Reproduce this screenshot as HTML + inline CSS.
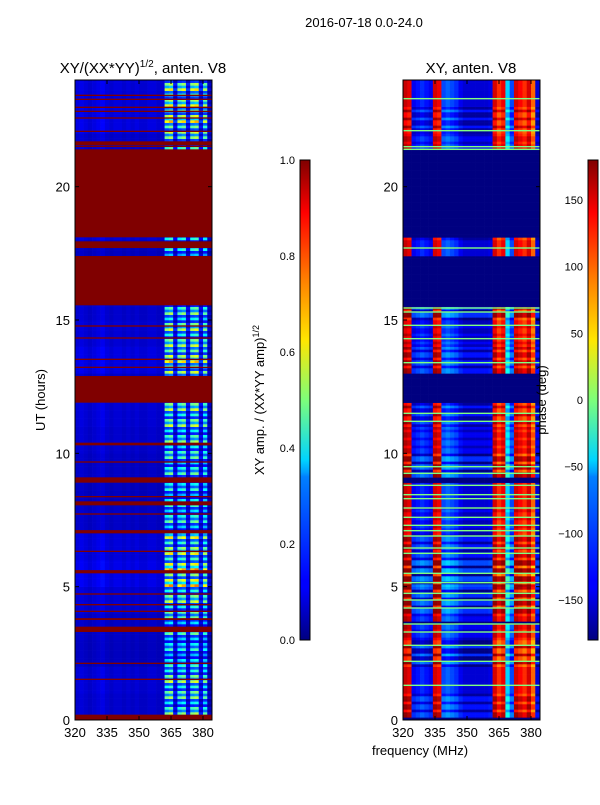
<!DOCTYPE html>
<html><head><meta charset="utf-8"><style>
body{margin:0;background:#fff;font-family:"Liberation Sans",sans-serif}
svg text{font-family:"Liberation Sans",sans-serif}
</style></head><body>
<svg id="fig" width="600" height="800" xmlns="http://www.w3.org/2000/svg">
<defs>
<linearGradient id="jet" x1="0" y1="1" x2="0" y2="0">
<stop offset="0" stop-color="#000080"/><stop offset="0.11" stop-color="#0000ff"/><stop offset="0.125" stop-color="#0000ff"/>
<stop offset="0.34" stop-color="#0080ff"/><stop offset="0.35" stop-color="#00a0ff"/><stop offset="0.375" stop-color="#00d4ff"/>
<stop offset="0.5" stop-color="#7dff7a"/><stop offset="0.625" stop-color="#ffe600"/><stop offset="0.75" stop-color="#ff8000"/>
<stop offset="0.89" stop-color="#ff0000"/><stop offset="1" stop-color="#800000"/>
</linearGradient>
</defs>
<text x="364" y="27" font-size="13" text-anchor="middle">2016-07-18 0.0-24.0</text>
<text x="143" y="73" font-size="15" text-anchor="middle">XY/(XX*YY)<tspan font-size="10" dy="-6">1/2</tspan><tspan dy="6">, anten. V8</tspan></text>
<text x="471" y="73" font-size="15" text-anchor="middle">XY, anten. V8</text>
<g id="left"></g>
<g id="right"></g>
<rect x="75" y="80" width="137" height="640" fill="none" stroke="#000"/>
<rect x="403" y="80" width="137" height="640" fill="none" stroke="#000"/>
<g id="axes"></g>
<text transform="translate(45,400) rotate(-90)" font-size="13" text-anchor="middle">UT (hours)</text>
<text x="420" y="755" font-size="13" text-anchor="middle">frequency (MHz)</text>
<rect x="300" y="160" width="10" height="480" fill="url(#jet)" stroke="#000"/>
<rect x="588" y="160" width="10" height="480" fill="url(#jet)" stroke="#000"/>
<text transform="translate(264,400) rotate(-90)" font-size="13" text-anchor="middle">XY amp. / (XX*YY amp)<tspan font-size="9" dy="-5">1/2</tspan></text>
<text transform="translate(546,400) rotate(-90)" font-size="13" text-anchor="middle">phase (deg)</text>
</svg>
<script>
const NS="http://www.w3.org/2000/svg";
// ---- data ----
const uTicks=[0,5,10,15,20];
const fTicks=[320,335,350,365,380];
const ampTicks=[0.0,0.2,0.4,0.6,0.8,1.0];
const phaseTicks=[-150,-100,-50,0,50,100,150];
// frequency columns (2 MHz bins starting at 320)
const ampCol=[0.07,0.08,0.07,0.06,0.07,0.08,0.09,0.07,0.06,0.07,0.07,0.06,0.07,0.06,0.07,0.06,0.06,0.07,0.07,0.06,0.06,0.32,0.36,0.1,0.3,0.34,0.1,0.33,0.36,0.1,0.3,0.05];
const phaseCol=[155,145,-140,-130,-120,-130,-140,150,140,-110,-100,-110,-120,-140,-150,-150,-150,-150,-150,-150,-145,150,120,140,-60,-110,150,135,120,150,100,-150];
const rowGain=[1.1,1.2,0.9,1.0,1.2,1.5,1.3,1.0,0.9,1.0,1.1,1.2,1.0,1.4,1.2,1.1,1.0,0.9,1.2,1.0,1.0,1.1,1.4,1.3];
const rowTex=[1.0,0.5,1.4,0.7,1.2,0.4];
const phaseShift=[20,0,-30,10,30,40,20,-10,0,30,10,-20,0,20,-10,30,0,0,20,0,0,10,-20,0];
// flagged bands (hours) for amplitude -> value 1
const ampFlagStart=[0,1.5,2.1,3.3,3.75,4.05,4.3,4.7,5.5,6.3,7.0,7.7,8.05,8.35,8.9,9.65,10.3,11.9,13.2,13.5,14.3,14.75,15.55,17.7,18.1,21.5,21.55,22.05,22.55,22.8,22.95,23.25,23.4];
const ampFlagEnd=[0.2,1.55,2.15,3.5,3.82,4.1,4.35,4.75,5.62,6.35,7.12,7.75,8.2,8.4,9.1,9.7,10.4,12.9,13.25,13.55,14.35,14.8,17.4,17.95,21.4,21.53,21.7,22.1,22.6,22.85,23.0,23.3,23.45];
// flagged bands for phase -> navy
const phFlagStart=[0,3.6,8.9,11.9,15.55,18.1];
const phFlagEnd=[0.08,3.7,9.1,13.0,17.4,21.4];
// green (phase ~0) lines
const phLine=[1.3,2.2,2.8,3.3,3.6,4.2,4.5,4.75,5.15,5.5,6.25,6.45,6.9,7.1,7.3,7.6,7.95,8.3,8.45,8.8,9.25,9.5,11.2,11.5,13.4,14.3,14.8,15.3,15.45,17.7,21.4,21.5,22.1,23.3];
// ---- scales ----
function yS(h){return 720-h*640/24;}
function xL(f){return 75+(f-320)*128/60;}
function xR(f){return 403+(f-320)*128/60;}
function jet(v){v=Math.max(0,Math.min(1,v));
 const r=Math.max(0,Math.min(1,Math.min(4*v-1.5,-4*v+4.5)));
 const g=Math.max(0,Math.min(1,Math.min(4*v-0.5,-4*v+3.5)));
 const b=Math.max(0,Math.min(1,Math.min(4*v+0.5,-4*v+2.5)));
 return `rgb(${Math.round(r*255)},${Math.round(g*255)},${Math.round(b*255)})`;}
function inBand(h,s,e){for(let i=0;i<s.length;i++)if(h>=s[i]&&h<e[i])return true;return false;}
const L=document.getElementById('left'),R=document.getElementById('right');
const dh=0.1,nr=240;
for(let r=0;r<nr;r++){
 const h=r*dh,hc=h+dh/2,y=yS(h+dh),ht=640/nr+0.3;
 const flP=inBand(hc,phFlagStart,phFlagEnd);
 for(let c=0;c<ampCol.length;c++){
  const f=320+2*c;
  const v=ampCol[c]*rowGain[Math.floor(h)]*(c>20?rowTex[r%6]:1);
  const e=document.createElementNS(NS,'rect');
  e.setAttribute('x',xL(f));e.setAttribute('y',y);e.setAttribute('width',4.6);e.setAttribute('height',ht);e.setAttribute('fill',jet(v));
  
  
  L.appendChild(e);
  let p;
  if(flP)p=-180;else{p=phaseCol[c]+phaseShift[Math.floor(h)]*(r%3===0?-1:1);if(p>175)p=175;}
  const e2=document.createElementNS(NS,'rect');
  e2.setAttribute('x',xR(f));e2.setAttribute('y',y);e2.setAttribute('width',4.6);e2.setAttribute('height',ht);e2.setAttribute('fill',jet((p+180)/360));
  
  
  R.appendChild(e2);
 }
}
// flagged amplitude bands
for(let i=0;i<ampFlagStart.length;i++){
 const e=document.createElementNS(NS,'rect');
 const y1=yS(ampFlagEnd[i]),y0=yS(ampFlagStart[i]);
 e.setAttribute('x',75);e.setAttribute('y',y1);e.setAttribute('width',137);e.setAttribute('height',Math.max(1.2,y0-y1));e.setAttribute('fill',jet(1));
 
 
 L.appendChild(e);
}
// phase green lines
for(const l of phLine){
 const e=document.createElementNS(NS,'rect');
 e.setAttribute('x',403);e.setAttribute('y',yS(l)-0.7);e.setAttribute('width',137);e.setAttribute('height',1.4);e.setAttribute('fill',jet(0.5));
 
 
 R.appendChild(e);
}
const A=document.getElementById('axes');
function txt(x,y,s,anchor){const t=document.createElementNS(NS,'text');t.setAttribute('x',x);t.setAttribute('y',y);t.setAttribute('font-size','13');t.setAttribute('text-anchor',anchor);t.textContent=s;
 
 
 A.appendChild(t);}
function ln(x1,y1,x2,y2){const l=document.createElementNS(NS,'line');l.setAttribute('x1',x1);l.setAttribute('y1',y1);l.setAttribute('x2',x2);l.setAttribute('y2',y2);l.setAttribute('stroke','#000');
 
 
 A.appendChild(l);}
for(const u of uTicks){const y=yS(u);txt(70,y+5,String(u),'end');txt(398,y+5,String(u),'end');
 ln(75,y,79,y);ln(208,y,212,y);ln(403,y,407,y);ln(536,y,540,y);}
for(const f of fTicks){txt(xL(f),737,String(f),'middle');txt(xR(f),737,String(f),'middle');
 ln(xL(f),720,xL(f),716);ln(xL(f),80,xL(f),84);ln(xR(f),720,xR(f),716);ln(xR(f),80,xR(f),84);}
for(const a of ampTicks){const y=640-a*480;const t=document.createElementNS(NS,'text');t.setAttribute('x',295);t.setAttribute('y',y+4);t.setAttribute('font-size','11');t.setAttribute('text-anchor','end');t.textContent=a.toFixed(1);
 
 
 A.appendChild(t);}
for(const p of phaseTicks){const y=400-p*480/360;const t=document.createElementNS(NS,'text');t.setAttribute('x',583);t.setAttribute('y',y+4);t.setAttribute('font-size','11');t.setAttribute('text-anchor','end');t.textContent=p<0?'\u2212'+(-p):String(p);
 
 
 A.appendChild(t);}
</script>
</body></html>
